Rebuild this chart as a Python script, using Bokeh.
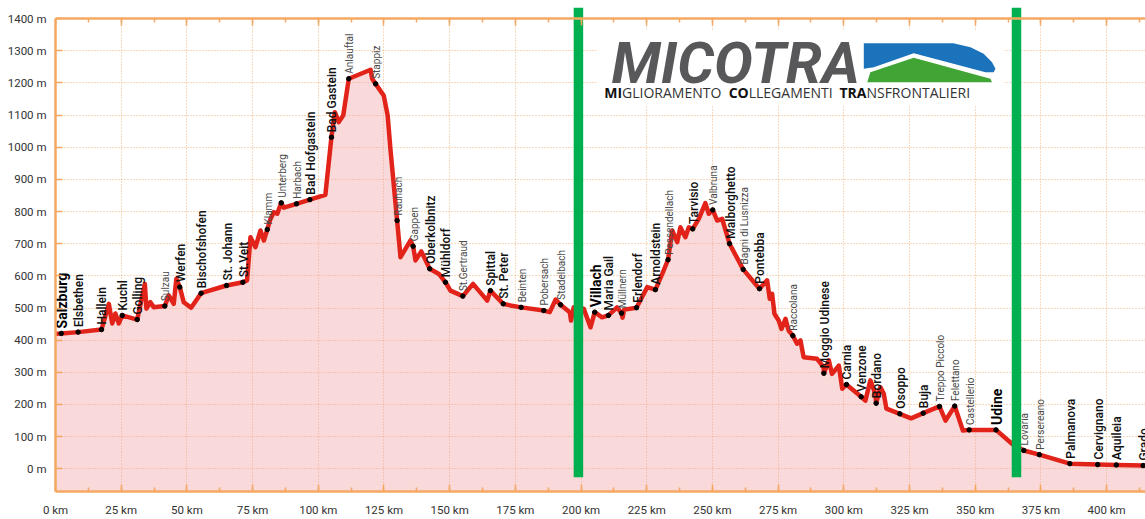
import numpy as np
from bokeh.plotting import figure
from bokeh.models import (Range1d, LinearAxis, SingleIntervalTicker,
                          PrintfTickFormatter, CustomJSTickFormatter)
from bokeh.core.properties import value
from bokeh.embed import file_html
from bokeh.resources import INLINE

# ---------------- data ----------------
profile_km = [
    -0.5, 2.2, 8.6, 17.5, 20.3, 21.6, 22.8, 24.1, 25.4, 31.1,
    34.0, 34.6, 36.1, 37.4, 41.6, 43.1, 45.0, 46.0, 47.3, 48.8,
    51.6, 55.4, 65.1, 71.3, 72.9, 74.2, 76.1, 78.0, 79.3, 80.6,
    81.8, 83.1, 84.4, 85.9, 86.9, 91.7, 96.8, 102.7, 105.0, 106.3,
    107.8, 109.5, 111.6, 119.9, 120.5, 121.8, 124.9, 126.4, 127.5, 130.0,
    131.3, 135.1, 136.1, 137.0, 139.2, 142.4, 145.9, 148.4, 150.3, 155.0,
    158.9, 164.3, 165.5, 170.4, 173.1, 177.2, 185.8, 188.1, 190.3, 192.2,
    195.7, 196.2, 197.2, 201.0, 203.6, 205.2, 208.0, 210.4, 213.7, 215.4,
    215.8, 216.4, 221.1, 225.2, 228.3, 230.9, 233.1, 234.7, 236.6, 237.8,
    239.7, 241.0, 242.5, 244.8, 247.3, 248.6, 250.1, 251.8, 253.7, 256.5,
    261.7, 267.9, 270.8, 271.8, 272.7, 273.6, 275.2, 276.3, 277.8, 279.0,
    280.6, 282.2, 283.5, 284.7, 289.8, 292.3, 292.4, 294.3, 295.5, 298.1,
    299.4, 301.0, 306.6, 308.2, 310.1, 312.0, 312.3, 313.9, 315.2, 316.2,
    321.3, 325.6, 330.2, 336.4, 338.7, 342.2, 345.3, 347.7, 357.9, 364.0,
    368.5, 374.4, 386.0, 396.6, 403.7, 413.9, 416.0,
]
profile_m = [
    420, 421, 425, 433, 513, 452, 483, 452, 477, 464,
    575, 498, 518, 502, 506, 539, 513, 591, 565, 518,
    501, 546, 570, 580, 586, 720, 689, 741, 710, 744,
    777, 798, 793, 827, 812, 824, 837, 852, 1031, 1109,
    1078, 1099, 1213, 1241, 1213, 1197, 1161, 1099, 990, 772,
    658, 710, 692, 648, 676, 622, 606, 580, 554, 537,
    575, 523, 554, 513, 508, 502, 492, 487, 526, 510,
    487, 461, 502, 498, 440, 487, 471, 477, 502, 484,
    470, 495, 501, 565, 557, 606, 650, 741, 705, 751,
    720, 751, 746, 777, 826, 793, 805, 772, 777, 700,
    620, 560, 586, 529, 544, 482, 461, 435, 466, 430,
    414, 389, 399, 347, 342, 316, 297, 337, 295, 321,
    249, 262, 224, 212, 275, 233, 204, 254, 233, 187,
    171, 157, 173, 194, 150, 195, 119, 121, 121, 78,
    57, 44, 16, 13, 12, 10, 10,
]

town_names = [
    "Salzburg", "Elsbethen", "Hallein", "Kuchl", "Golling", "Sulzau", "Werfen",
    "Bischofshofen", "St. Johann", "St.Veit", "Klamm", "Unterberg", "Harbach",
    "Bad Hofgastein", "Bad Gastein", "Anlauftal", "Stappiz", "Rauhach", "Gappen",
    "Oberkolbnitz", "Mühldorf", "St.Gertraud", "Spittal", "St. Peter", "Beinten",
    "Pobersach", "Stadelbach", "Villach", "Maria Gail", "Müllnern", "Erlendorf",
    "Arnoldstein", "Pessendellach", "Tarvisio", "Valbruna", "Malborghetto",
    "Bagni di Lusnizza", "Pontebba", "Raccolana", "Moggio Udinese", "Carnia",
    "Venzone", "Bordano", "Osoppo", "Buja", "Treppo Piccolo", "Felettano",
    "Castellerio", "Udine", "Lovaria", "Persereano", "Palmanova", "Cervignano",
    "Aquileia", "Grado",
]
town_km = [
    2.2, 8.6, 17.5, 25.4, 31.1, 41.6, 47.3,
    55.4, 65.1, 71.3, 80.6, 85.9, 91.7,
    96.8, 105.0, 111.6, 121.8, 130.0, 136.1,
    142.4, 148.4, 155.0, 165.5, 170.4, 177.2,
    185.8, 192.2, 205.2, 210.4, 215.4, 221.1,
    228.3, 233.1, 242.5, 250.1, 256.5,
    261.7, 267.9, 280.6, 292.4, 301.0,
    306.6, 312.3, 321.3, 330.2, 336.4, 342.2,
    347.7, 357.9, 368.5, 374.4, 386.0, 396.6,
    403.7, 413.9,
]
town_m = [
    421, 425, 433, 477, 464, 506, 565,
    546, 570, 580, 744, 827, 824,
    837, 1031, 1213, 1197, 772, 692,
    622, 580, 537, 554, 513, 502,
    492, 510, 487, 477, 484, 501,
    557, 650, 746, 805, 700,
    620, 560, 414, 297, 262,
    224, 204, 171, 173, 194, 195,
    121, 121, 57, 44, 16, 13,
    12, 10,
]
# L = main city, M = town, S = small village
town_rank = [
    "L", "M", "M", "M", "M", "S", "M",
    "M", "M", "M", "S", "S", "S",
    "M", "M", "S", "S", "S", "S",
    "M", "M", "S", "M", "M", "S",
    "S", "S", "L", "M", "S", "M",
    "M", "S", "M", "S", "M",
    "S", "M", "S", "M", "M",
    "M", "M", "M", "M", "S", "S",
    "S", "L", "S", "S", "M", "M",
    "M", "M",
]

divider_km = [199.0, 365.7]

logo_title = "MICOTRA"
logo_sub_parts = ["MI", "GLIORAMENTO", "CO", "LLEGAMENTI", "TRA", "NSFRONTALIERI"]
logo_sub_bold = [True, False, True, False, True, False]
logo_sub_join = [215.6, 215.6, 263.8, 263.8, 308.6, 308.6]
logo_blue_x = [307.6, 341.7, 348.2, 353.2, 356.4, 357.7, 357.0, 353.9, 326.6, 311.4, 307.6]
logo_blue_y = [1323.4, 1323.4, 1311.0, 1290.4, 1264.3, 1243.8, 1233.2, 1233.2, 1292.3, 1248.8, 1243.8]
logo_green_x = [310.1, 326.6, 355.8, 356.4, 308.9]
logo_green_y = [1233.2, 1278.0, 1212.7, 1202.1, 1202.1]

# ---------------- styling ----------------
ORANGE = "#f6a862"
GRID = "#f3b47c"
RED = "#e2231a"
GREEN = "#00b050"
FONT = "Roboto"

X_END = 414.8
Y_START, Y_TOP, Y_END = -70.6, 1400, 1456.2
GREEN_TOP, GREEN_BOTTOM = 1434, -26

p = figure(width=1145, height=519, output_backend="svg", toolbar_location=None,
           x_range=Range1d(0, X_END), y_range=Range1d(Y_START, Y_END),
           min_border_left=55, min_border_right=0, min_border_top=0,
           min_border_bottom=28)
p.outline_line_color = None
p.background_fill_color = "white"
p.border_fill_color = "white"

# grid
p.xgrid.ticker = SingleIntervalTicker(interval=25)
p.ygrid.ticker = SingleIntervalTicker(interval=100)
for g in (p.xgrid, p.ygrid):
    g.grid_line_color = GRID
    g.grid_line_dash = "1 2"
    g.grid_line_width = 1

# bottom axis
xa = p.xaxis[0]
xa.ticker = SingleIntervalTicker(interval=25, num_minor_ticks=2)
xa.formatter = PrintfTickFormatter(format="%d km")
xa.axis_line_color = ORANGE
xa.axis_line_width = 2.5
xa.major_tick_line_color = ORANGE
xa.minor_tick_line_color = ORANGE
xa.major_tick_line_width = 1.5
xa.minor_tick_line_width = 1.5
xa.major_tick_in = 7
xa.major_tick_out = 0
xa.minor_tick_in = 4
xa.minor_tick_out = 0
xa.major_label_standoff = 11
xa.major_label_text_font = FONT
xa.major_label_text_font_size = "11.5px"
xa.major_label_text_color = "#333333"

# left axis
ya = p.yaxis[0]
ya.ticker = SingleIntervalTicker(interval=100, num_minor_ticks=0)
ya.formatter = PrintfTickFormatter(format="%d m")
ya.bounds = (Y_START, Y_TOP)
ya.axis_line_color = ORANGE
ya.axis_line_width = 2.5
ya.major_tick_line_color = ORANGE
ya.major_tick_line_width = 1.5
ya.major_tick_in = 7
ya.major_tick_out = 0
ya.minor_tick_line_color = None
ya.major_label_standoff = 9
ya.major_label_text_font = FONT
ya.major_label_text_font_size = "11.5px"
ya.major_label_text_color = "#333333"

# top axis line at 1400 m
top_axis = LinearAxis(fixed_location=Y_TOP,
                      ticker=SingleIntervalTicker(interval=25, num_minor_ticks=2),
                      formatter=CustomJSTickFormatter(code="return ''"),
                      axis_line_color=ORANGE, axis_line_width=2.5,
                      major_tick_line_color=ORANGE, minor_tick_line_color=ORANGE,
                      major_tick_line_width=1.5, minor_tick_line_width=1.5,
                      major_tick_in=7, major_tick_out=0,
                      minor_tick_in=4, minor_tick_out=0,
                      major_label_standoff=0)
p.add_layout(top_axis, "above")

# elevation area
p.varea(x=profile_km, y1=Y_START, y2=profile_m, fill_color="#f0a0a0", fill_alpha=0.4)

# white mask above the top line
p.quad(left=-5, right=X_END + 5, bottom=Y_TOP, top=Y_END + 20,
       fill_color="white", line_color=None)

# logo
p.quad(left=206.0, right=361.0, bottom=1130, top=1363, fill_color="white", line_color=None)
p.patch(logo_blue_x, logo_blue_y, fill_color="#1b74bb", line_color=None)
p.patch(logo_green_x, logo_green_y, fill_color="#40a535", line_color=None)
p.text(x=[211.6], y=[1262], text=[logo_title], text_font=value("Roboto"),
       text_font_style="bold italic", text_font_size="58px", text_color="#58585a",
       text_align="left", text_baseline="alphabetic")
for part, bold, xx in zip(logo_sub_parts, logo_sub_bold, logo_sub_join):
    p.text(x=[xx], y=[1171], text=[part], text_font=value("Open Sans"),
           text_font_style="bold" if bold else "normal", text_font_size="14px",
           text_color="#111111" if bold else "#333333",
           text_align="right" if bold else "left", text_baseline="alphabetic")

# profile line and town dots
p.line(profile_km, profile_m, line_color=RED, line_width=4.5, line_join="round")
p.scatter(town_km, town_m, size=4.5, color="black")

# town labels
styles = {
    "L": dict(font="Roboto", size="14px", style="bold", color="#000000"),
    "M": dict(font="Roboto Medium", size="12px", style="normal", color="#111111"),
    "S": dict(font="Roboto", size="10px", style="normal", color="#4a4a4a"),
}
for rank, st in styles.items():
    idx = [i for i, r in enumerate(town_rank) if r == rank]
    p.text(x=[town_km[i] for i in idx], y=[town_m[i] for i in idx],
           text=[town_names[i] for i in idx], angle=np.pi / 2,
           x_offset=1, y_offset=-5,
           text_font=value(st["font"]), text_font_style=st["style"],
           text_font_size=st["size"], text_color=st["color"],
           text_align="left", text_baseline="middle")

# green divider lines
p.segment(x0=divider_km, y0=[GREEN_BOTTOM] * 2, x1=divider_km, y1=[GREEN_TOP] * 2,
          line_color=GREEN, line_width=9.5, line_cap="butt")

open("out.html", "w").write(file_html(p, INLINE))
